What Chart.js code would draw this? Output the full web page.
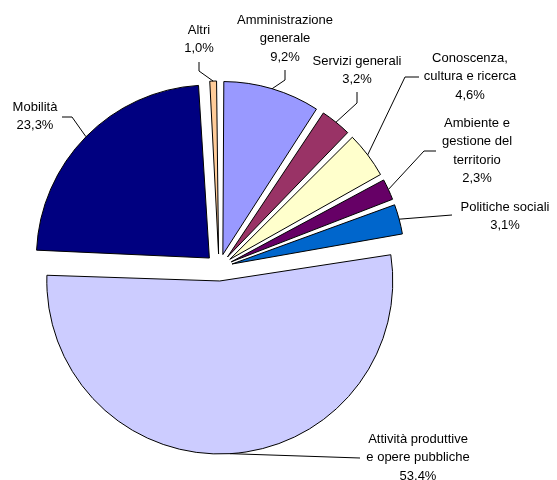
<!DOCTYPE html>
<html>
<head>
<meta charset="utf-8">
<script src="https://cdn.jsdelivr.net/npm/chart.js@4"></script>
<style>
    html, body { margin: 0; padding: 0; background: #fff; }
    #wrap { width: 557px; height: 480px; }
</style>
</head>
<body>
<div id="wrap"><canvas id="pie" width="557" height="480"></canvas></div>
<script>
// spesa per settore, in %
const categories = ['Amministrazione\ngenerale', 'Servizi generali', 'Conoscenza,\ncultura e ricerca', 'Ambiente e\ngestione del\nterritorio', 'Politiche sociali', 'Attività produttive\ne opere pubbliche', 'Mobilità', 'Altri'];
const values = [9.2, 3.2, 4.6, 2.3, 3.1, 53.4, 23.3, 1.0];
const colors = ['#9999ff', '#993366', '#ffffcc', '#660066', '#0066cc', '#ccccff', '#000080', '#ffcc99'];

// dove stanno le etichette: centro del testo, inizio linea, gomito
const labelLayout = [
    {x: 285, y: 20, sx: 285, sy: 70, ex: 285, ey: 80},
    {x: 357, y: 61, sx: 357, sy: 92, ex: 357, ey: 103},
    {x: 470, y: 58, sx: 419, sy: 77, ex: 405, ey: 77},
    {x: 477, y: 123, sx: 436, sy: 151, ex: 424, ey: 151},
    {x: 505, y: 207, sx: 452, sy: 215, ex: 452, ey: 215},
    {x: 418, y: 439, sx: 360, sy: 458, ex: 360, ey: 458},
    {x: 35, y: 107, sx: 62, sy: 117, ex: 72, ey: 117},
    {x: 199, y: 30, sx: 199, sy: 62, ex: 199, ey: 71}
];

const EXPLODE = 54;   // chart.js sposta lo spicchio di offset/4
const LINE_H = 18.5;

const fmtPct = v => v.toFixed(1).replace('.', ',') + '%';

// l'arco allarga il raggio degli spicchi piccoli/grandi quando c'e' offset:
// lo riporto al raggio comune così tutti gli spicchi sono uguali
const sameRadius = {
    id: 'sameRadius',
    beforeDatasetsDraw(chart) {
        const meta = chart.getDatasetMeta(0);
        const base = meta.controller.outerRadius;
        meta.data.forEach(arc => {
            const shift = (arc.options.offset || 0) / 4;
            const circ = arc.endAngle - arc.startAngle;
            const fix = 1 - Math.sin(Math.min(Math.PI, circ));
            arc.outerRadius = base - shift * fix;
        });
    }
};

const pieLabels = {
    id: 'pieLabels',
    afterDatasetsDraw(chart) {
        const ctx = chart.ctx;
        const meta = chart.getDatasetMeta(0);
        const base = meta.controller.outerRadius;
        ctx.save();
        ctx.font = '13px "Liberation Sans", Arial, sans-serif';
        ctx.fillStyle = '#000';
        ctx.strokeStyle = '#000';
        ctx.lineWidth = 1;
        ctx.textAlign = 'center';
        ctx.textBaseline = 'middle';
        meta.data.forEach((arc, i) => {
            const l = labelLayout[i];
            const mid = (arc.startAngle + arc.endAngle) / 2;
            const r = base + (arc.options.offset || 0) / 4;
            const ax = arc.x + Math.cos(mid) * r;
            const ay = arc.y + Math.sin(mid) * r;
            ctx.beginPath();
            ctx.moveTo(l.sx, l.sy);
            ctx.lineTo(l.ex, l.ey);
            ctx.lineTo(ax, ay);
            ctx.stroke();
            const lines = categories[i].split('\n');
            lines.push(fmtPct(values[i]));
            lines.forEach((t, k) => ctx.fillText(t, l.x, l.y + k * LINE_H));
        });
        ctx.restore();
    }
};

new Chart(document.getElementById('pie'), {
    type: 'pie',
    data: {
        labels: categories,
        datasets: [{
            data: values,
            backgroundColor: colors,
            borderColor: '#000',
            borderWidth: 1,
            offset: EXPLODE
        }]
    },
    options: {
        responsive: false,
        animation: false,
        radius: 173,
        layout: { padding: { left: 0, right: 119, top: 55, bottom: 0 } },
        plugins: {
            legend: { display: false },
            tooltip: { enabled: false }
        }
    },
    plugins: [sameRadius, pieLabels]
});
</script>
</body>
</html>
